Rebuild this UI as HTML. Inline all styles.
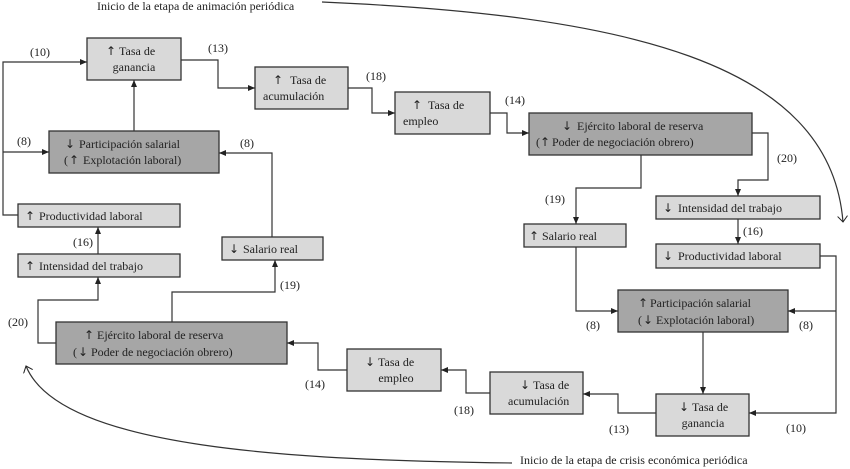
<!DOCTYPE html>
<html><head><meta charset="utf-8"><style>
html,body{margin:0;padding:0;background:#fff}
svg{display:block}
text{font-family:"Liberation Serif",serif;font-size:12px;fill:#222}
text.g{font-family:"DejaVu Sans",sans-serif;font-size:12px}
.l{fill:#d9d9d9;stroke:#333;stroke-width:1.3}
.d{fill:#a6a6a6;stroke:#333;stroke-width:1.3}
.c{fill:none;stroke:#333;stroke-width:1.2}
</style></head><body>
<svg width="850" height="469" viewBox="0 0 850 469" xmlns="http://www.w3.org/2000/svg">
<defs>
<marker id="a" markerWidth="8" markerHeight="8" refX="7" refY="4" orient="auto" markerUnits="userSpaceOnUse"><path d="M0,1 L7,4 L0,7 z" fill="#222"/></marker>
<marker id="o" markerWidth="12" markerHeight="12" refX="6" refY="6" orient="auto" markerUnits="userSpaceOnUse"><path d="M0,1 L6,6 L0,11" fill="none" stroke="#222"/></marker>
</defs>
<text x="97" y="10">Inicio de la etapa de animación periódica</text>
<path class="c" d="M322,2 C620,15 830,60 843,222" marker-end="url(#o)"/>
<text x="520" y="464">Inicio de la etapa de crisis económica periódica</text>
<path class="c" d="M512,463 C300,460 60,450 26,366" marker-end="url(#o)"/>

<path class="c" d="M18,215 H3 V62 H87" marker-end="url(#a)"/>
<path class="c" d="M3,152 H49" marker-end="url(#a)"/>
<path class="c" d="M134,131 V80" marker-end="url(#a)"/>
<path class="c" d="M181,60 H218 V88 H255" marker-end="url(#a)"/>
<path class="c" d="M348,88 H372 V113 H395" marker-end="url(#a)"/>
<path class="c" d="M490,113 H507 V133 H529" marker-end="url(#a)"/>
<path class="c" d="M272,237 V153 H219" marker-end="url(#a)"/>
<path class="c" d="M98,254 V227" marker-end="url(#a)"/>
<path class="c" d="M172,322 V292 H275 V260" marker-end="url(#a)"/>
<path class="c" d="M56,343 H38 V300 H98 V277" marker-end="url(#a)"/>
<path class="c" d="M641,155 V188 H576 V224" marker-end="url(#a)"/>
<path class="c" d="M752,133 H768 V180 H738 V196" marker-end="url(#a)"/>
<path class="c" d="M738,219 V244" marker-end="url(#a)"/>
<path class="c" d="M576,247 V311 H618" marker-end="url(#a)"/>
<path class="c" d="M820,256 H836 V413 H749" marker-end="url(#a)"/>
<path class="c" d="M836,311 H788" marker-end="url(#a)"/>
<path class="c" d="M703,332 V394" marker-end="url(#a)"/>
<path class="c" d="M656,413 H618 V394 H583" marker-end="url(#a)"/>
<path class="c" d="M490,393 H466 V370 H441" marker-end="url(#a)"/>
<path class="c" d="M347,370 H318 V343 H287" marker-end="url(#a)"/>

<text x="30" y="56">(10)</text>
<text x="17" y="145">(8)</text>
<text x="208" y="52">(13)</text>
<text x="366" y="80">(18)</text>
<text x="505" y="104">(14)</text>
<text x="240" y="147">(8)</text>
<text x="73" y="246">(16)</text>
<text x="280" y="289">(19)</text>
<text x="8" y="326">(20)</text>
<text x="545" y="203">(19)</text>
<text x="777" y="162">(20)</text>
<text x="743" y="235">(16)</text>
<text x="586" y="329">(8)</text>
<text x="799" y="329">(8)</text>
<text x="786" y="432">(10)</text>
<text x="609" y="433">(13)</text>
<text x="454" y="414">(18)</text>
<text x="305" y="388">(14)</text>

<rect class="l" x="87" y="38" width="94" height="42"/>
<text class="g" x="106" y="55">↑</text><text x="119" y="55">Tasa de</text><text x="134" y="71" text-anchor="middle">ganancia</text>
<rect class="l" x="255" y="67" width="93" height="42"/>
<text class="g" x="273" y="84">↑</text><text x="290" y="84">Tasa de</text><text x="263" y="100">acumulación</text>
<rect class="l" x="395" y="92" width="95" height="42"/>
<text class="g" x="412" y="109">↑</text><text x="428" y="109">Tasa de</text><text x="403" y="125">empleo</text>
<rect class="d" x="529" y="113" width="223" height="42"/>
<text class="g" x="562" y="130">↓</text><text x="577" y="130">Ejército laboral de reserva</text>
<text x="536" y="146">(</text><text class="g" x="540" y="146">↑</text><text x="552" y="146">Poder de negociación obrero)</text>
<rect class="d" x="49" y="131" width="170" height="42"/>
<text class="g" x="65" y="148">↓</text><text x="79" y="148">Participación salarial</text>
<text x="64" y="164">(</text><text class="g" x="69" y="164">↑</text><text x="83" y="164">Explotación laboral)</text>
<rect class="l" x="18" y="204" width="162" height="23"/>
<text class="g" x="25" y="220">↑</text><text x="39" y="220">Productividad laboral</text>
<rect class="l" x="18" y="254" width="162" height="23"/>
<text class="g" x="25" y="270">↑</text><text x="39" y="270">Intensidad del trabajo</text>
<rect class="l" x="222" y="237" width="101" height="23"/>
<text class="g" x="229" y="253">↓</text><text x="243" y="253">Salario real</text>
<rect class="l" x="524" y="224" width="102" height="23"/>
<text class="g" x="529" y="240">↑</text><text x="542" y="240">Salario real</text>
<rect class="l" x="656" y="196" width="164" height="23"/>
<text class="g" x="663" y="212">↓</text><text x="678" y="212">Intensidad del trabajo</text>
<rect class="l" x="656" y="244" width="164" height="24"/>
<text class="g" x="663" y="260">↓</text><text x="678" y="260">Productividad laboral</text>
<rect class="d" x="618" y="290" width="170" height="42"/>
<text class="g" x="638" y="307">↑</text><text x="650" y="307">Participación salarial</text>
<text x="638" y="324">(</text><text class="g" x="643" y="324">↓</text><text x="656" y="324">Explotación laboral)</text>
<rect class="d" x="56" y="322" width="231" height="42"/>
<text class="g" x="84" y="339">↑</text><text x="97" y="339">Ejército laboral de reserva</text>
<text x="73" y="356">(</text><text class="g" x="78" y="356">↓</text><text x="91" y="356">Poder de negociación obrero)</text>
<rect class="l" x="347" y="349" width="94" height="42"/>
<text class="g" x="365" y="366">↓</text><text x="378" y="366">Tasa de</text><text x="396" y="382" text-anchor="middle">empleo</text>
<rect class="l" x="490" y="372" width="93" height="42"/>
<text class="g" x="520" y="389">↓</text><text x="533" y="389">Tasa de</text><text x="508" y="405">acumulación</text>
<rect class="l" x="656" y="394" width="93" height="42"/>
<text class="g" x="679" y="411">↓</text><text x="692" y="411">Tasa de</text><text x="703" y="427" text-anchor="middle">ganancia</text>
</svg>
</body></html>
